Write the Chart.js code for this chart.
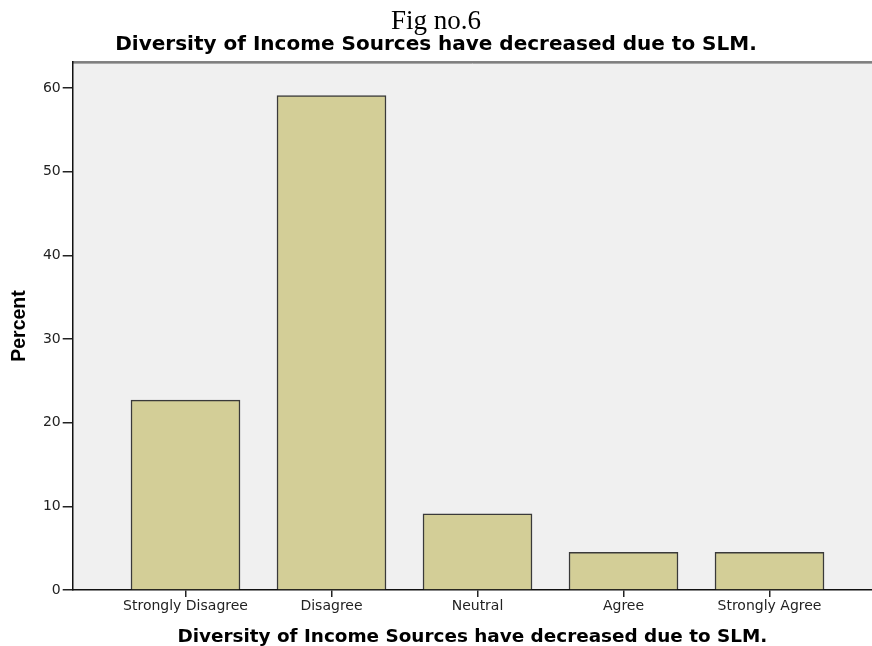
<!DOCTYPE html>
<html>
<head>
<meta charset="utf-8">
<script src="https://cdn.jsdelivr.net/npm/chart.js@4/dist/chart.umd.min.js"></script>
<style>
html,body{margin:0;padding:0;background:#fff;}
#wrap{width:872px;height:646px;position:relative;}
</style>
</head>
<body>
<div id="wrap"><canvas id="c" width="872" height="646"></canvas></div>
<script>
const categories = ["Strongly Disagree", "Disagree", "Neutral", "Agree", "Strongly Agree"];
const percentValues = [22.7, 59.1, 9.1, 4.5, 4.5];
const yTicks = [0, 10, 20, 30, 40, 50, 60];
const figLabel = "Fig no.6";
const chartTitle = "Diversity of Income Sources have decreased due to SLM.";
const yTitle = "Percent";

const bgPlugin = {
  id: 'bgPlugin',
  beforeDraw(chart) {
    const {ctx, chartArea: a} = chart;
    ctx.save();
    ctx.fillStyle = '#f0f0f0';
    ctx.fillRect(a.left, a.top, a.right - a.left, a.bottom - a.top);
    ctx.strokeStyle = '#5a5a5a';
    ctx.lineWidth = 1.5;
    ctx.beginPath();
    ctx.moveTo(a.left, a.top);
    ctx.lineTo(a.right, a.top);
    ctx.stroke();
    ctx.strokeStyle = '#a8a8a8';
    ctx.lineWidth = 1;
    ctx.beginPath();
    ctx.moveTo(a.left, a.top + 1.5);
    ctx.lineTo(a.right, a.top + 1.5);
    ctx.stroke();
    ctx.restore();
  }
};

new Chart(document.getElementById('c'), {
  type: 'bar',
  data: {
    datasets: [{
      data: categories.map((c, i) => ({x: i, y: percentValues[i]})),
      backgroundColor: '#d3ce97',
      borderColor: '#3a3a3a',
      borderWidth: 1.5,
      barThickness: 109
    }]
  },
  options: {
    responsive: false,
    animation: false,
    layout: {padding: {left: 0, right: 0, top: 0, bottom: 0}},
    plugins: {
      legend: {display: false},
      tooltip: {enabled: false},
      title: {
        display: true,
        text: figLabel,
        color: '#000',
        font: {family: 'Liberation Serif', size: 27, weight: 'normal', lineHeight: 1},
        padding: {top: 8, bottom: 0}
      },
      subtitle: {
        display: true,
        text: chartTitle,
        color: '#000',
        font: {family: 'DejaVu Sans', size: 20, weight: 'bold', lineHeight: 1},
        padding: {top: 0, bottom: 7}
      }
    },
    scales: {
      x: {
        type: 'linear',
        offset: false,
        min: -0.7726,
        max: 4.702,
        afterBuildTicks(scale) { scale.ticks = categories.map((c, i) => ({value: i})); },
        afterFit(scale) { scale.height = 56; },
        grid: {display: true, offset: false, drawOnChartArea: false, drawTicks: true, tickLength: 7, color: '#222', lineWidth: 1.5},
        border: {display: true, color: '#111', width: 1.5},
        ticks: {
          callback: (v) => categories[v],
          color: '#222',
          font: {family: 'DejaVu Sans', size: 14},
          padding: 1,
          maxRotation: 0,
          autoSkip: false
        },
        title: {
          display: true,
          text: chartTitle,
          color: '#000',
          font: {family: 'DejaVu Sans', size: 18.4, weight: 'bold', lineHeight: 1},
          padding: {top: 0, bottom: 0}
        }
      },
      y: {
        min: 0,
        max: 63.1,
        afterBuildTicks(scale) { scale.ticks = yTicks.map(v => ({value: v})); },
        afterFit(scale) { scale.width = 72.7; },
        grid: {display: true, drawOnChartArea: false, drawTicks: true, tickLength: 10, color: '#222', lineWidth: 1.5},
        border: {display: true, color: '#111', width: 1.5},
        ticks: {
          color: '#222',
          font: {family: 'DejaVu Sans', size: 14},
          padding: 2
        },
        title: {
          display: true,
          text: yTitle,
          color: '#000',
          font: {family: 'Liberation Sans', size: 19.5, weight: 'bold', lineHeight: 1},
          padding: {top: 10, bottom: 0}
        }
      }
    }
  },
  plugins: [bgPlugin]
});
</script>
</body>
</html>
